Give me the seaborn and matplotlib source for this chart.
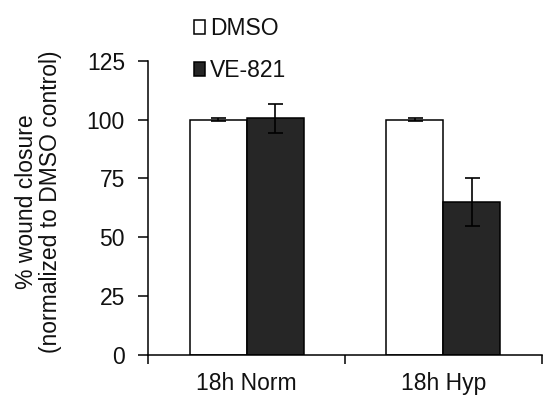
import matplotlib
matplotlib.use("Agg")
import matplotlib.pyplot as plt
import matplotlib.patches as mpatches
import seaborn as sns
import pandas as pd
import numpy as np

conditions = ["18h Norm", "18h Hyp"]
treatments = ["DMSO", "VE-821"]
dmso_vals = [100.0, 100.0]
dmso_err = [0.5, 0.5]
ve_vals = [100.5, 65.0]
ve_err = [6.0, 10.2]
yticks = [0, 25, 50, 75, 100, 125]
ylabel = "% wound closure\n(normalized to DMSO control)"

sns.set_theme(style="ticks")
plt.rcParams["font.family"] = ["Liberation Sans", "DejaVu Sans"]
plt.rcParams["text.color"] = "#111111"
plt.rcParams["xtick.color"] = "black"
plt.rcParams["ytick.color"] = "black"
plt.rcParams["xtick.labelcolor"] = "#111111"
plt.rcParams["ytick.labelcolor"] = "#111111"
plt.rcParams["axes.labelcolor"] = "#111111"

df = pd.DataFrame({
    "condition": conditions * 2,
    "treatment": [treatments[0]] * 2 + [treatments[1]] * 2,
    "value": dmso_vals + ve_vals,
})
errs = {treatments[0]: dmso_err, treatments[1]: ve_err}
colors = {treatments[0]: "#ffffff", treatments[1]: "#262626"}

fig = plt.figure(figsize=(5.43, 3.96), dpi=100)
ax = fig.add_axes([0.2731, 0.1035, 0.7245, 0.7432])

sns.barplot(data=df, x="condition", y="value", hue="treatment",
            order=conditions, hue_order=treatments, palette=colors,
            edgecolor="black", linewidth=1.1, width=0.58, gap=0,
            errorbar=None, legend=False, ax=ax)

for cont, t in zip(ax.containers, treatments):
    xs = [b.get_x() + b.get_width() / 2 for b in cont]
    hs = [b.get_height() for b in cont]
    ax.errorbar(xs, hs, yerr=errs[t], fmt="none", ecolor="black",
                elinewidth=1.2, capsize=5.4, capthick=1.2, zorder=5)

ax.set_xlim(-0.5, 1.5)
ax.set_ylim(0, 125)
ax.set_yticks(yticks)
ax.set_yticklabels([str(v) for v in yticks], fontsize=16.5)
ax.set_xticks(range(len(conditions)))
ax.set_xticklabels(conditions, fontsize=16.5)
ax.set_xticks([-0.5, 0.5, 1.5], minor=True)
ax.tick_params(axis="x", which="major", length=0, pad=12)
ax.tick_params(axis="x", which="minor", length=6.5, width=1.1, direction="out", color="black")
ax.tick_params(axis="y", length=7.2, width=1.1, pad=9.6, color="black")
for s in ["top", "right"]:
    ax.spines[s].set_visible(False)
for s in ["left", "bottom"]:
    ax.spines[s].set_linewidth(1.1)
    ax.spines[s].set_color("black")
ax.set_xlabel("")
ax.set_ylabel(ylabel, fontsize=16.5, linespacing=1.05)
ax.yaxis.set_label_coords(-0.219, 0.52)

handles = [mpatches.Patch(facecolor=colors[t], edgecolor="black", linewidth=1.1, label=t)
           for t in treatments]
fig.legend(handles=handles, loc="upper left", bbox_to_anchor=(0.357, 0.956),
           frameon=False, fontsize=16.5, handlelength=0.5, handleheight=0.55,
           handletextpad=0.2, labelspacing=0.8, borderpad=0, borderaxespad=0)

fig.savefig("out.png", dpi=100)
